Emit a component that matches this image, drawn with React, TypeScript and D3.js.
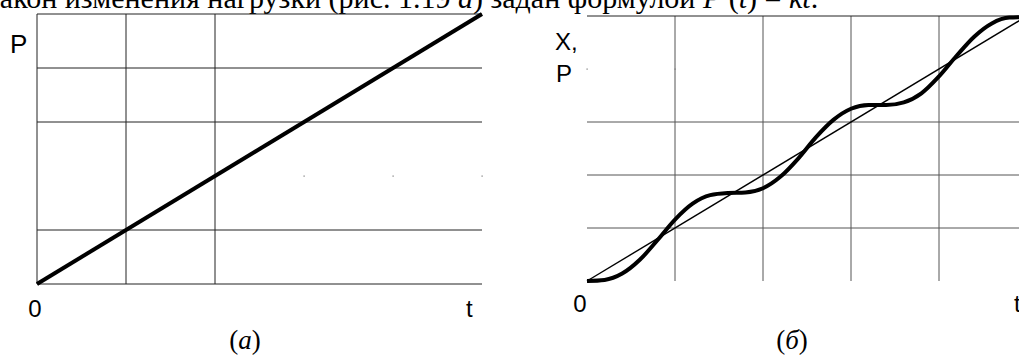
import * as d3 from 'd3';

const WIDTH = 1019, HEIGHT = 356;

// grid is 5 x 5 units in both panels
// panel (a): which grid lines survived the scan
const leftVLines = [1, 2];
const leftHLines = [0, 1, 3, 4, 5];
const leftDots = [3, 4, 5]; // faint remains of the P = 2 line

// panel (б)
const rightVLines = [1, 2, 3, 4];
const rightHLines = [1, 2, 3, 5];
const rightDots = [0, 1]; // faint remains of the P = 4 line

// load P(t) = kt
const loadT = [0, 5];
const loadP = [0, 5];

// response X(t)
const respT = [0, 0.2, 0.4, 0.6, 0.8, 1.0, 1.2, 1.4, 1.6, 1.8, 2.0, 2.2, 2.4, 2.6, 2.8, 3.0, 3.2, 3.4, 3.6, 3.8, 4.0, 4.2, 4.4, 4.6, 4.8, 5.0];
const respX = [0, 0.02, 0.14, 0.4, 0.77, 1.16, 1.46, 1.62, 1.66, 1.67, 1.75, 1.97, 2.31, 2.71, 3.04, 3.25, 3.32, 3.32, 3.37, 3.54, 3.86, 4.25, 4.61, 4.86, 4.97, 4.98];

const sans = "'Liberation Sans', Arial, sans-serif";
const serif = "'Liberation Serif', 'Times New Roman', serif";

const xL = d3.scaleLinear().domain([0, 5]).range([37, 482]);
const yL = d3.scaleLinear().domain([0, 5]).range([284, 14]);
const xR = d3.scaleLinear().domain([0, 5]).range([587, 1027]);
const yR = d3.scaleLinear().domain([0, 5]).range([281, 16]);

const App = () => {
    const lineL = d3.line<number>().x((d) => xL(d)).y((d, i) => yL(loadP[i]));
    const thinR = d3.line<number>().x((d) => xR(d)).y((d, i) => yR(loadP[i]));
    const thickR = d3
        .line<number>()
        .x((d) => xR(d))
        .y((d, i) => yR(respX[i]))
        .curve(d3.curveMonotoneX);

    return (
        <svg
            width={WIDTH}
            height={HEIGHT}
            style={{ position: 'absolute', left: 0, top: 0, background: '#fff' }}
        >
            {/* clipped line of body text above the figure */}
            <text x={-12} y={8} fontFamily={serif} fontSize={30} fill="#000">
                закон изменения нагрузки (рис. 1.19 <tspan fontStyle="italic">а</tspan>) задан формулой{' '}
                <tspan fontStyle="italic">P</tspan> (<tspan fontStyle="italic">t</tspan>) = <tspan fontStyle="italic">kt</tspan>.
            </text>

            {/* panel (a) */}
            <g stroke="#222" strokeWidth={1}>
                <line x1={xL(0)} x2={xL(0)} y1={yL(0)} y2={yL(5)} />
                {leftVLines.map((t) => (
                    <line key={'lv' + t} x1={xL(t)} x2={xL(t)} y1={yL(0)} y2={yL(5)} />
                ))}
                {leftHLines.map((p) => (
                    <line key={'lh' + p} x1={xL(0)} x2={xL(5)} y1={yL(p)} y2={yL(p)} />
                ))}
            </g>
            {leftDots.map((t) => (
                <rect key={'ld' + t} x={xL(t) - 0.5} y={yL(2) - 0.5} width={1.2} height={1.2} fill="#777" />
            ))}
            <path d={lineL(loadT) || ''} fill="none" stroke="#000" strokeWidth={4} />

            <text x={10} y={53} fontFamily={sans} fontSize={26}>P</text>
            <text x={35} y={317} fontFamily={sans} fontSize={24} textAnchor="middle">0</text>
            <text x={466} y={317} fontFamily={sans} fontSize={24}>t</text>
            <text x={245} y={349} fontFamily={serif} fontSize={27} textAnchor="middle">
                (<tspan fontStyle="italic">a</tspan>)
            </text>

            {/* panel (б) */}
            <g stroke="#555" strokeWidth={1}>
                {rightVLines.map((t) => (
                    <line key={'rv' + t} x1={xR(t)} x2={xR(t)} y1={yR(0)} y2={yR(5)} />
                ))}
                {rightHLines.map((p) => (
                    <line key={'rh' + p} x1={xR(0)} x2={xR(5)} y1={yR(p)} y2={yR(p)} stroke={p === 5 ? '#222' : '#555'} />
                ))}
            </g>
            {rightDots.map((t) => (
                <rect key={'rd' + t} x={xR(t) - 0.5} y={yR(4) - 0.5} width={1.2} height={1.2} fill="#777" />
            ))}
            <path d={thinR(loadT) || ''} fill="none" stroke="#000" strokeWidth={1.4} />
            <path d={thickR(respT) || ''} fill="none" stroke="#000" strokeWidth={4} />

            <text x={555} y={50} fontFamily={sans} fontSize={24}>X,</text>
            <text x={556} y={82} fontFamily={sans} fontSize={24}>P</text>
            <text x={580} y={312} fontFamily={sans} fontSize={24} textAnchor="middle">0</text>
            <text x={1014} y={312} fontFamily={sans} fontSize={24}>t</text>
            <text x={792} y={349} fontFamily={serif} fontSize={27} textAnchor="middle">
                (<tspan fontStyle="italic">б</tspan>)
            </text>
        </svg>
    );
};

export default App;
